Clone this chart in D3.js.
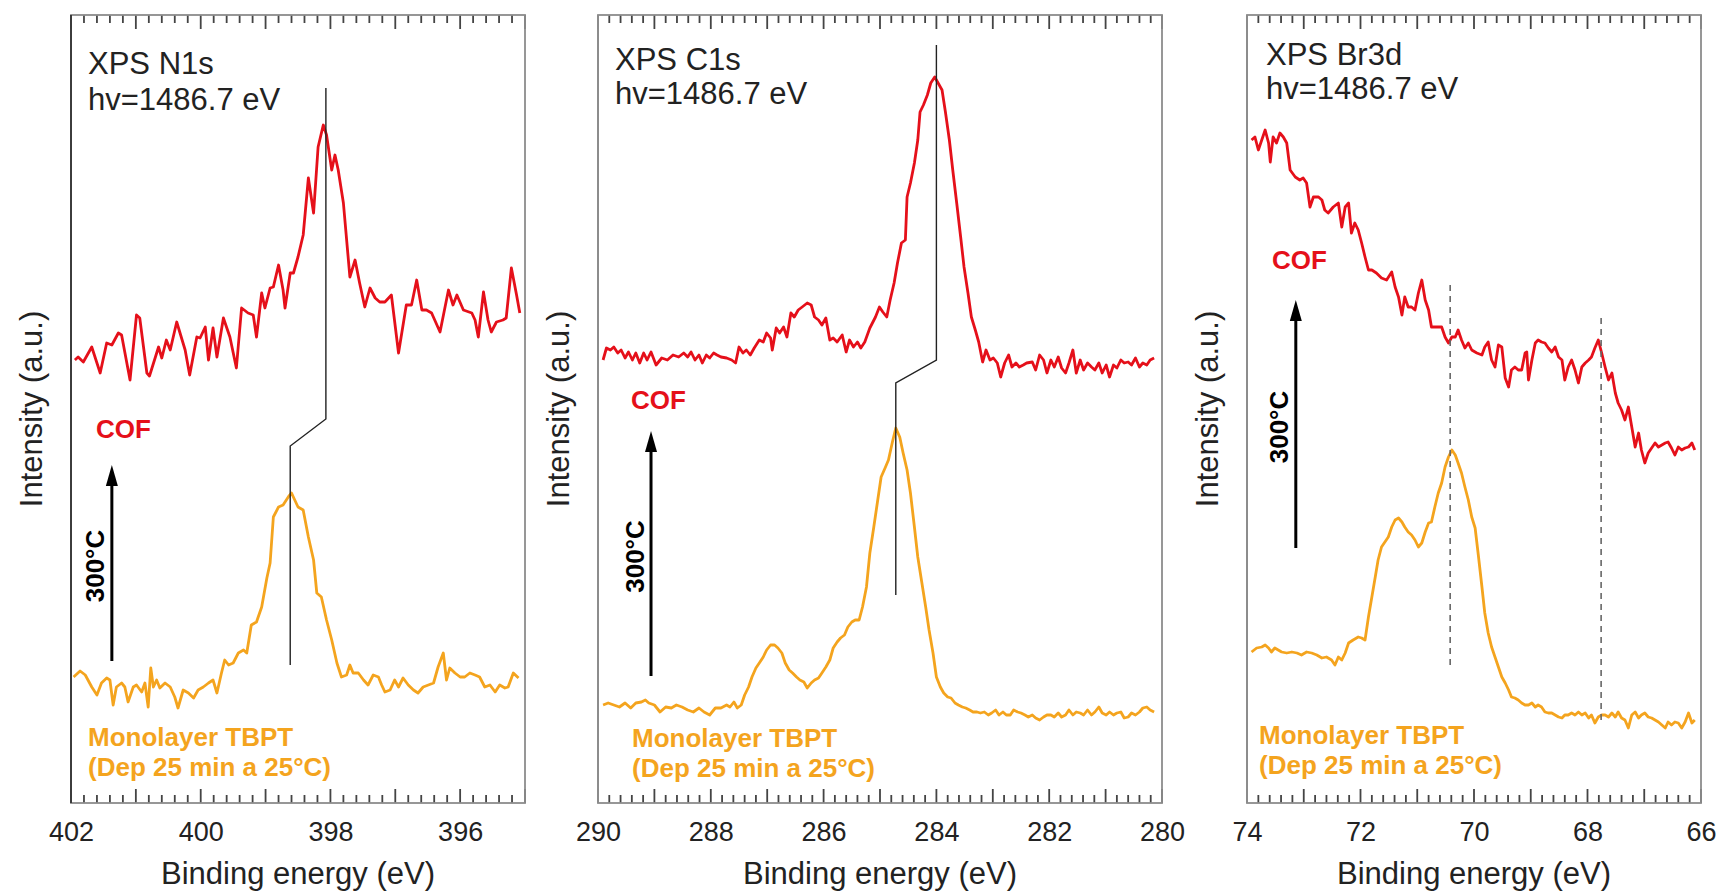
<!DOCTYPE html>
<html lang="en">
<head>
  <meta charset="UTF-8">
  <script src="https://d3js.org/d3.v7.min.js"></script>
  <style>
    html, body { margin: 0; padding: 0; background: #fff; }
    svg text { font-family: "Liberation Sans", Arial, sans-serif; }
  </style>
</head>
<body>
<svg id="chart" width="1717" height="892"></svg>
<script>
// ---- data: [binding energy (eV), intensity (a.u.)] ----
const n1sCof = [[401.94,443],[401.89,446],[401.81,441],[401.68,456],[401.55,430],[401.45,460],[401.37,458],[401.27,470],[401.22,468],[401.09,423],[400.99,488],[400.94,485],[400.83,430],[400.79,427],[400.65,456],[400.60,445],[400.53,463],[400.47,453],[400.37,481],[400.24,453],[400.17,428],[400.06,466],[400.01,465],[399.93,476],[399.88,443],[399.81,475],[399.75,446],[399.65,485],[399.55,466],[399.45,435],[399.37,495],[399.27,490],[399.19,488],[399.14,466],[399.06,510],[399.01,495],[398.93,515],[398.88,516],[398.80,538],[398.73,513],[398.70,495],[398.62,530],[398.57,530],[398.50,546],[398.42,568],[398.34,625],[398.26,590],[398.19,656],[398.11,678],[398.06,668],[397.98,633],[397.93,648],[397.88,633],[397.80,600],[397.70,526],[397.62,543],[397.55,520],[397.47,496],[397.39,515],[397.31,505],[397.24,501],[397.16,501],[397.06,508],[396.95,450],[396.83,498],[396.75,498],[396.67,523],[396.59,493],[396.52,493],[396.44,490],[396.31,471],[396.18,513],[396.11,498],[396.05,508],[395.95,493],[395.82,490],[395.77,483],[395.72,466],[395.64,511],[395.57,483],[395.52,471],[395.44,481],[395.34,483],[395.29,485],[395.21,535],[395.13,508],[395.08,490]]
const n1sMono = [[401.96,126],[401.86,132],[401.78,128],[401.68,116],[401.60,108],[401.53,120],[401.45,125],[401.40,123],[401.35,98],[401.30,116],[401.22,120],[401.17,116],[401.12,101],[401.04,116],[400.99,118],[400.91,111],[400.86,120],[400.81,96],[400.77,135],[400.73,116],[400.68,123],[400.63,115],[400.55,120],[400.47,116],[400.40,106],[400.35,95],[400.27,113],[400.19,110],[400.11,105],[400.04,113],[399.96,116],[399.88,120],[399.81,123],[399.75,110],[399.68,130],[399.63,143],[399.57,138],[399.50,140],[399.42,150],[399.34,153],[399.29,150],[399.22,178],[399.14,181],[399.06,196],[398.98,225],[398.93,240],[398.88,286],[398.80,296],[398.73,298],[398.65,306],[398.60,310],[398.55,303],[398.50,296],[398.42,293],[398.34,266],[398.26,243],[398.21,210],[398.14,206],[398.06,183],[397.98,163],[397.90,140],[397.83,126],[397.75,128],[397.70,138],[397.65,130],[397.57,130],[397.49,123],[397.42,118],[397.34,128],[397.26,126],[397.21,118],[397.16,111],[397.08,113],[397.01,123],[396.95,116],[396.88,125],[396.80,118],[396.72,113],[396.65,110],[396.57,116],[396.49,118],[396.41,120],[396.34,136],[396.26,150],[396.21,123],[396.16,135],[396.08,130],[396.00,126],[395.93,126],[395.85,130],[395.77,128],[395.70,126],[395.62,116],[395.54,118],[395.46,111],[395.39,118],[395.31,115],[395.26,116],[395.18,130],[395.10,125]]

const c1sCof = [[289.91,443],[289.85,455],[289.78,453],[289.72,456],[289.65,450],[289.59,453],[289.52,445],[289.46,451],[289.39,443],[289.33,450],[289.26,440],[289.19,450],[289.13,443],[289.06,451],[288.97,438],[288.87,445],[288.77,443],[288.67,448],[288.57,446],[288.48,450],[288.41,446],[288.35,451],[288.28,443],[288.21,448],[288.15,440],[288.08,448],[288.02,445],[287.95,450],[287.89,448],[287.82,446],[287.72,445],[287.63,443],[287.56,440],[287.50,456],[287.43,450],[287.37,453],[287.30,448],[287.23,455],[287.14,463],[287.07,461],[287.01,470],[286.94,465],[286.91,453],[286.84,475],[286.78,470],[286.71,476],[286.65,466],[286.58,490],[286.52,486],[286.45,493],[286.38,496],[286.29,500],[286.22,498],[286.16,486],[286.09,483],[286.03,478],[285.96,485],[285.89,463],[285.83,465],[285.76,461],[285.67,468],[285.60,451],[285.54,463],[285.47,456],[285.40,461],[285.34,455],[285.27,461],[285.18,475],[285.08,486],[285.01,496],[284.95,491],[284.88,486],[284.82,503],[284.75,520],[284.69,540],[284.62,560],[284.55,563],[284.52,606],[284.46,620],[284.39,640],[284.33,663],[284.29,691],[284.23,698],[284.16,708],[284.10,720],[284.03,726],[283.97,720],[283.90,713],[283.84,691],[283.77,663],[283.71,633],[283.64,600],[283.57,566],[283.51,536],[283.44,510],[283.38,486],[283.31,473],[283.25,461],[283.18,441],[283.12,453],[283.05,443],[282.99,445],[282.92,440],[282.86,426],[282.79,440],[282.72,448],[282.66,436],[282.59,440],[282.53,436],[282.46,438],[282.40,440],[282.30,441],[282.24,433],[282.17,448],[282.10,443],[282.04,430],[281.97,443],[281.91,436],[281.84,446],[281.78,435],[281.71,430],[281.65,440],[281.58,453],[281.52,430],[281.45,443],[281.39,433],[281.32,440],[281.25,436],[281.19,433],[281.12,440],[281.06,430],[280.99,438],[280.93,426],[280.86,438],[280.80,435],[280.73,443],[280.67,440],[280.60,441],[280.54,438],[280.47,445],[280.40,436],[280.34,440],[280.27,438],[280.21,443],[280.14,445]]
const c1sMono = [[289.91,98],[289.82,100],[289.72,98],[289.62,96],[289.52,100],[289.42,95],[289.33,100],[289.23,101],[289.16,103],[289.10,100],[289.00,98],[288.90,91],[288.80,96],[288.70,95],[288.61,98],[288.51,96],[288.41,93],[288.31,91],[288.21,95],[288.12,91],[288.02,88],[287.92,95],[287.82,95],[287.72,98],[287.66,96],[287.59,101],[287.53,95],[287.46,98],[287.40,108],[287.33,116],[287.27,126],[287.20,135],[287.14,140],[287.07,146],[287.01,153],[286.94,158],[286.87,158],[286.81,155],[286.74,150],[286.68,140],[286.61,133],[286.55,130],[286.48,126],[286.42,123],[286.35,121],[286.29,115],[286.22,120],[286.16,123],[286.09,125],[286.03,130],[285.96,136],[285.89,143],[285.83,155],[285.76,161],[285.70,165],[285.63,168],[285.57,176],[285.50,181],[285.44,183],[285.37,183],[285.31,196],[285.24,216],[285.18,250],[285.11,276],[285.04,303],[284.98,326],[284.91,335],[284.85,343],[284.78,361],[284.72,375],[284.65,366],[284.59,350],[284.52,333],[284.46,310],[284.39,276],[284.33,246],[284.26,221],[284.19,196],[284.13,173],[284.06,150],[284.00,126],[283.93,116],[283.87,110],[283.80,106],[283.74,105],[283.67,100],[283.61,98],[283.54,96],[283.48,95],[283.41,93],[283.35,91],[283.28,91],[283.22,90],[283.15,91],[283.08,88],[283.02,90],[282.95,93],[282.89,88],[282.82,91],[282.76,88],[282.69,88],[282.63,93],[282.56,91],[282.50,90],[282.43,88],[282.37,86],[282.30,88],[282.24,85],[282.17,83],[282.10,86],[282.04,88],[281.97,88],[281.91,86],[281.84,90],[281.78,86],[281.71,88],[281.65,93],[281.58,88],[281.52,91],[281.45,90],[281.39,88],[281.32,93],[281.25,88],[281.19,91],[281.12,96],[281.06,90],[280.99,88],[280.93,91],[280.86,88],[280.80,90],[280.73,91],[280.67,85],[280.60,86],[280.54,90],[280.47,88],[280.40,91],[280.34,95],[280.27,96],[280.21,93],[280.14,91]]

const br3dCof = [[73.92,663],[73.86,666],[73.80,653],[73.74,663],[73.68,673],[73.62,660],[73.59,641],[73.54,666],[73.48,660],[73.42,670],[73.36,666],[73.30,660],[73.24,633],[73.15,626],[73.07,623],[73.01,625],[72.95,620],[72.89,596],[72.83,606],[72.74,606],[72.68,603],[72.63,593],[72.57,590],[72.48,596],[72.39,600],[72.33,576],[72.27,596],[72.21,600],[72.16,570],[72.10,580],[72.04,573],[71.98,560],[71.92,546],[71.86,533],[71.80,533],[71.72,530],[71.63,525],[71.54,523],[71.45,531],[71.39,516],[71.33,506],[71.27,488],[71.22,506],[71.16,496],[71.10,496],[71.04,493],[70.98,510],[70.92,523],[70.86,503],[70.80,493],[70.75,476],[70.66,476],[70.57,476],[70.51,466],[70.45,460],[70.39,466],[70.33,466],[70.28,473],[70.22,463],[70.16,455],[70.10,460],[70.04,453],[69.95,450],[69.86,448],[69.81,456],[69.75,461],[69.69,443],[69.63,436],[69.57,458],[69.51,456],[69.45,425],[69.39,416],[69.34,433],[69.28,436],[69.22,433],[69.16,433],[69.10,450],[69.07,451],[69.04,423],[68.98,443],[68.92,460],[68.87,463],[68.81,461],[68.75,460],[68.69,455],[68.63,451],[68.57,456],[68.51,446],[68.45,443],[68.40,423],[68.34,436],[68.28,443],[68.22,433],[68.16,420],[68.10,436],[68.04,440],[67.98,443],[67.93,446],[67.87,455],[67.81,463],[67.75,450],[67.69,436],[67.63,423],[67.57,430],[67.51,410],[67.46,400],[67.40,393],[67.34,383],[67.28,396],[67.22,376],[67.16,356],[67.10,370],[67.05,353],[66.99,340],[66.93,350],[66.87,355],[66.81,360],[66.75,356],[66.69,358],[66.63,360],[66.58,361],[66.52,355],[66.46,348],[66.40,356],[66.34,353],[66.28,355],[66.22,356],[66.16,360],[66.11,353]]
const br3dMono = [[73.92,151],[73.83,155],[73.74,156],[73.68,158],[73.62,155],[73.57,151],[73.51,155],[73.45,153],[73.39,151],[73.30,150],[73.21,151],[73.12,150],[73.04,148],[72.95,151],[72.86,150],[72.77,148],[72.68,145],[72.60,146],[72.51,143],[72.45,138],[72.39,146],[72.33,143],[72.27,150],[72.21,160],[72.13,163],[72.04,166],[71.98,165],[71.92,163],[71.86,186],[71.80,206],[71.74,226],[71.69,243],[71.63,256],[71.57,261],[71.51,266],[71.45,276],[71.39,283],[71.33,285],[71.27,281],[71.22,276],[71.16,271],[71.10,268],[71.04,263],[70.98,256],[70.92,260],[70.86,271],[70.80,280],[70.75,281],[70.69,296],[70.63,310],[70.57,320],[70.51,336],[70.45,346],[70.39,353],[70.33,348],[70.28,340],[70.22,330],[70.16,316],[70.10,303],[70.04,286],[69.98,275],[69.92,246],[69.86,216],[69.81,190],[69.75,170],[69.69,156],[69.63,146],[69.57,136],[69.51,126],[69.45,120],[69.39,113],[69.34,106],[69.28,105],[69.22,103],[69.16,100],[69.10,98],[69.04,98],[68.98,100],[68.92,96],[68.87,98],[68.81,96],[68.75,91],[68.69,90],[68.63,90],[68.57,88],[68.51,86],[68.45,85],[68.40,88],[68.34,88],[68.28,90],[68.22,88],[68.16,91],[68.10,88],[68.04,90],[67.98,85],[67.93,88],[67.87,80],[67.81,86],[67.75,88],[67.69,88],[67.63,86],[67.57,90],[67.51,86],[67.46,91],[67.40,85],[67.34,83],[67.28,75],[67.22,88],[67.16,91],[67.10,85],[67.05,88],[66.99,90],[66.93,86],[66.87,85],[66.81,83],[66.75,81],[66.69,78],[66.63,75],[66.58,81],[66.52,78],[66.46,81],[66.40,80],[66.34,75],[66.28,81],[66.22,90],[66.16,80],[66.11,83]]

// peak guides (black lines) and Br3d dashed markers
const n1sGuide = [[398.07,715],[398.07,384],[398.62,357],[398.62,138]]
const c1sGuide = [[284.00,758],[284.00,443],[284.72,420],[284.72,208]]
const br3dDashed = [[[70.42,518],[70.42,136]], [[67.76,485],[67.76,82]]]

// tick labels
const n1sTickLabels = [402, 400, 398, 396]
const c1sTickLabels = [290, 288, 286, 284, 282, 280]
const br3dTickLabels = [74, 72, 70, 68, 66]

// heating arrows: [energy, tail intensity, tip intensity]
const n1sArrow = [401.37, 142, 338]
const c1sArrow = [289.06, 127, 372]
const br3dArrow = [73.14, 255, 503]

const RED = '#e5101a'
const ORANGE = '#f4a41e'
const FONT = '"Liberation Sans", Arial, sans-serif'

const plotTop = 15, plotBottom = 803
const svg = d3.select('#chart')
const y = d3.scaleLinear().domain([0, 788]).range([plotBottom, plotTop])

const panels = [
  { left: 71, right: 525, domain: [402, 395], labels: n1sTickLabels,
    title: ['XPS N1s', 'hv=1486.7 eV'], titleX: 88, titleY: [74, 110],
    cof: n1sCof, mono: n1sMono, guide: n1sGuide, dashed: [], arrow: n1sArrow,
    cofPos: [96, 438], monoPos: [88, 746], leftStroke: '#333' },
  { left: 598, right: 1162, domain: [290, 280], labels: c1sTickLabels,
    title: ['XPS C1s', 'hv=1486.7 eV'], titleX: 615, titleY: [70, 104],
    cof: c1sCof, mono: c1sMono, guide: c1sGuide, dashed: [], arrow: c1sArrow,
    cofPos: [631, 409], monoPos: [632, 747], leftStroke: '#8c8c8c' },
  { left: 1247, right: 1701, domain: [74, 66], labels: br3dTickLabels,
    title: ['XPS Br3d', 'hv=1486.7 eV'], titleX: 1266, titleY: [65, 99],
    cof: br3dCof, mono: br3dMono, guide: null, dashed: br3dDashed, arrow: br3dArrow,
    cofPos: [1272, 269], monoPos: [1259, 744], leftStroke: '#8c8c8c' }
]

function drawPanel(p) {
  const x = d3.scaleLinear().domain(p.domain).range([p.left, p.right])
  const g = svg.append('g')
  const lo = p.domain[1], hi = p.domain[0]
  // minor ticks every 0.2 eV, longer ones on whole eV
  const ticks = d3.range(lo * 5, hi * 5 + 1).map(d => ({ v: d / 5, major: d % 5 === 0 }))

  // tick marks on bottom and top, pointing inwards
  const tickPath = ticks.map(d => {
    const tx = x(d.v), len = d.major ? 14 : 8
    return `M${tx},${plotBottom}V${plotBottom - len}M${tx},${plotTop}V${plotTop + len}`
  }).join('')
  g.append('path')
    .attr('d', tickPath)
    .attr('fill', 'none')
    .attr('stroke', '#444')
    .attr('stroke-width', 1.8)

  // tick labels via the axis generator
  const labelAxis = g.append('g')
    .attr('transform', `translate(0,${plotBottom})`)
    .call(d3.axisBottom(x).tickValues(p.labels).tickSize(0).tickPadding(19).tickFormat(d3.format('d')))
  labelAxis.select('.domain').remove()
  labelAxis.selectAll('text').attr('font-size', 27).attr('font-family', FONT).attr('fill', '#222')

  // frame
  g.append('rect')
    .attr('x', p.left).attr('y', plotTop)
    .attr('width', p.right - p.left).attr('height', plotBottom - plotTop)
    .attr('fill', 'none').attr('stroke', '#8c8c8c').attr('stroke-width', 1.8)
  g.append('line')
    .attr('x1', p.left).attr('x2', p.left).attr('y1', plotTop).attr('y2', plotBottom)
    .attr('stroke', p.leftStroke).attr('stroke-width', 1.8)

  const line = d3.line().x(d => x(d[0])).y(d => y(d[1]))

  // spectra
  g.append('path').datum(p.mono)
    .attr('d', line).attr('fill', 'none')
    .attr('stroke', ORANGE).attr('stroke-width', 2.8).attr('stroke-linejoin', 'round')
  g.append('path').datum(p.cof)
    .attr('d', line).attr('fill', 'none')
    .attr('stroke', RED).attr('stroke-width', 2.8).attr('stroke-linejoin', 'round')

  // peak guide
  if (p.guide) {
    g.append('path').datum(p.guide)
      .attr('d', line).attr('fill', 'none')
      .attr('stroke', '#222').attr('stroke-width', 1.4)
  }
  p.dashed.forEach(seg => {
    g.append('path').datum(seg)
      .attr('d', line).attr('fill', 'none')
      .attr('stroke', '#666').attr('stroke-width', 1.6)
      .attr('stroke-dasharray', '6,5')
  })

  // heating arrow
  const ax = x(p.arrow[0]), y0 = y(p.arrow[1]), y1 = y(p.arrow[2])
  g.append('line')
    .attr('x1', ax).attr('x2', ax).attr('y1', y0).attr('y2', y1 + 16)
    .attr('stroke', '#000').attr('stroke-width', 3)
  g.append('path')
    .attr('d', `M${ax},${y1} L${ax - 6},${y1 + 21} L${ax + 6},${y1 + 21} Z`)
    .attr('fill', '#000')
  g.append('text')
    .attr('transform', `translate(${ax - 7.5},${(y0 + y1) / 2 + 3}) rotate(-90)`)
    .attr('text-anchor', 'middle')
    .attr('font-size', 26).attr('font-weight', 'bold').attr('fill', '#000')
    .text('300°C')

  // titles
  p.title.forEach((t, i) => {
    g.append('text')
      .attr('x', p.titleX).attr('y', p.titleY[i])
      .attr('font-size', 31).attr('fill', '#222')
      .text(t)
  })

  g.append('text')
    .attr('x', p.cofPos[0]).attr('y', p.cofPos[1])
    .attr('font-size', 26).attr('font-weight', 'bold').attr('fill', RED)
    .text('COF')

  const mono = g.append('text')
    .attr('x', p.monoPos[0]).attr('y', p.monoPos[1])
    .attr('font-size', 26).attr('font-weight', 'bold').attr('fill', ORANGE)
  mono.append('tspan').attr('x', p.monoPos[0]).text('Monolayer TBPT')
  mono.append('tspan').attr('x', p.monoPos[0]).attr('dy', 30).text('(Dep 25 min a 25°C)')

  // axis titles
  g.append('text')
    .attr('x', (p.left + p.right) / 2).attr('y', 884)
    .attr('text-anchor', 'middle')
    .attr('font-size', 31).attr('fill', '#222')
    .text('Binding energy (eV)')
  g.append('text')
    .attr('transform', `translate(${p.left - 29},${(plotTop + plotBottom) / 2}) rotate(-90)`)
    .attr('text-anchor', 'middle')
    .attr('font-size', 31).attr('fill', '#222')
    .text('Intensity (a.u.)')
}

panels.forEach(drawPanel)
</script>
</body>
</html>
